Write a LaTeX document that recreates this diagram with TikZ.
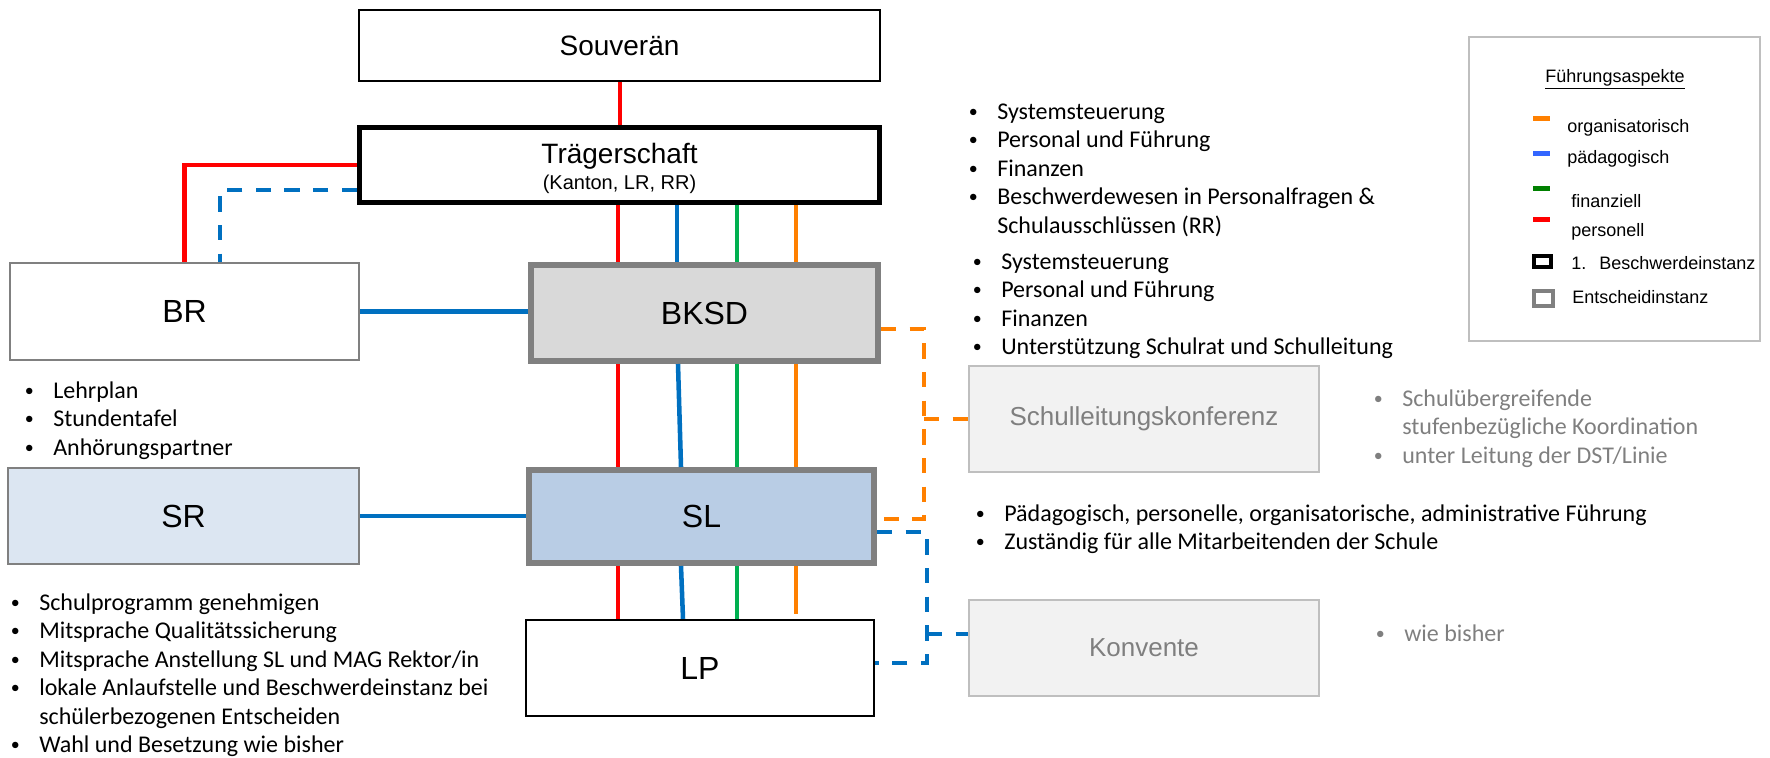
\documentclass[tikz,border=0pt]{standalone}
\usepackage{fontspec}
\setmainfont{Carlito}
\newfontfamily\arialf{Liberation Sans}
\usetikzlibrary{calc}
\definecolor{cred}{HTML}{FF0000}
\definecolor{cblue}{HTML}{0070C0}
\definecolor{cgreen}{HTML}{00B050}
\definecolor{corange}{HTML}{FF8000}
\definecolor{lblue}{HTML}{3366FF}
\definecolor{lgreen}{HTML}{008000}
\definecolor{bgray}{HTML}{808080}
\definecolor{lgray}{HTML}{BFBFBF}
\definecolor{tgray}{HTML}{7F7F7F}
\definecolor{fillbksd}{HTML}{D9D9D9}
\definecolor{fillsl}{HTML}{B9CDE5}
\definecolor{fillsr}{HTML}{DCE6F2}
\definecolor{fillpale}{HTML}{F2F2F2}
\newcommand\blt{\llap{\makebox[0pt][c]{\raisebox{1.3pt}{\fontsize{13.5}{14}\selectfont •}}\hspace{18pt}}}
\begin{document}
\begin{tikzpicture}[x=0.75pt,y=-0.75pt,
  box/.style={rectangle, inner sep=0pt, font=\arialf\fontsize{24}{28}\selectfont},
  plainbox/.style={box, draw=bgray, line width=1.8pt, fill=white},
  decidebox/.style={box, draw=bgray, line width=4.5pt},
  palebox/.style={box, draw=lgray, line width=1.8pt, fill=fillpale, text=tgray, font=\arialf\fontsize{19.5}{23}\selectfont},
  lbl/.style={inner sep=0pt, anchor=base, font=\arialf\fontsize{21}{25}\selectfont},
  lst/.style={anchor=base west, inner sep=0pt, font=\fontsize{18}{21.375}\selectfont},
  leg/.style={anchor=west, inner sep=0pt, font=\arialf\fontsize{13.5}{16}\selectfont},
  swatch/.style={rectangle, inner sep=0pt, minimum width=12.75pt, minimum height=3.75pt, draw=none},
  conn/.style={line width=3.4pt},
  dconn/.style={line width=3pt, dash pattern=on 11.5pt off 10pt}
]
\useasboundingbox (0,0) rectangle (1770,757);

% boxes
\node[box, draw=black, line width=1.2pt, minimum width=390.75pt, minimum height=53.25pt,
      font=\arialf\fontsize{21}{25}\selectfont] (souv) at (619.5,45.5) {Souverän};
\node[box, draw=black, line width=3.75pt, minimum width=390pt, minimum height=56.25pt] (traeger) at (619.5,165) {};
\node[lbl] (traegerA) at (619.5,163) {Trägerschaft};
\node[lbl, font=\arialf\fontsize{15}{18}\selectfont] (traegerB) at (619.5,189) {(Kanton, LR, RR)};
\node[plainbox, minimum width=261.75pt, minimum height=72.75pt] (br) at (184.5,311.5) {BR};
\node[decidebox, fill=fillbksd, minimum width=260.25pt, minimum height=72pt] (bksd) at (704.5,313) {BKSD};
\node[plainbox, fill=fillsr, minimum width=263.25pt, minimum height=72pt] (sr) at (183.5,516) {SR};
\node[decidebox, fill=fillsl, minimum width=258.75pt, minimum height=69.75pt] (sl) at (701.5,516.5) {SL};
\node[box, draw=black, line width=1.8pt, fill=white, minimum width=261pt, minimum height=72pt] (lp) at (700,668) {LP};
\node[palebox, minimum width=262.5pt, minimum height=79.5pt] (slk) at (1144,419) {Schulleitungskonferenz};
\node[palebox, minimum width=262.5pt, minimum height=72pt] (konv) at (1144,648) {Konvente};

% connectors
\coordinate (xs) at (620,0);
\coordinate (xr) at (618,0);
\coordinate (xg) at (737,0);
\coordinate (xo) at (796,0);
\coordinate (xb1) at (677,0);
\coordinate (xb2) at (678,0);
\coordinate (xb3) at (681,0);
\coordinate (xb4) at (683,0);
\coordinate (bdx) at (220,0);
\coordinate (oend) at (796,614);
\coordinate (ojoin) at (924,419);
\coordinate (bjoin) at (927,634);

\draw[conn, cred] (souv.south -| xs) -- (traeger.north -| xs);
\draw[conn, cred] (traeger.west) -| (br.north);
\draw[dconn, cblue] ($(traeger.west)+(0,25)$) -| (bdx |- br.north);

\draw[conn, cred] (traeger.south -| xr) -- (bksd.north -| xr);
\draw[conn, cblue] (traeger.south -| xb1) -- (bksd.north -| xb1);
\draw[conn, cgreen] (traeger.south -| xg) -- (bksd.north -| xg);
\draw[conn, corange] (traeger.south -| xo) -- (bksd.north -| xo);

\draw[conn, cred] (bksd.south -| xr) -- (sl.north -| xr);
\draw[conn, cblue] (bksd.south -| xb2) -- (sl.north -| xb3);
\draw[conn, cgreen] (bksd.south -| xg) -- (sl.north -| xg);
\draw[conn, corange] (bksd.south -| xo) -- (sl.north -| xo);

\draw[conn, cred] (sl.south -| xr) -- (lp.north -| xr);
\draw[conn, cblue] (sl.south -| xb3) -- (lp.north -| xb4);
\draw[conn, cgreen] (sl.south -| xg) -- (lp.north -| xg);
\draw[conn, corange] (sl.south -| xo) -- (oend);

\draw[conn, cblue] (br.east) -- (br.east -| bksd.west);
\draw[conn, cblue] (sr.east) -- (sr.east -| sl.west);

\draw[dconn, corange] ($(bksd.east)+(0,16)$) -| (ojoin) |- ($(sl.east)+(0,2.5)$);
\draw[dconn, corange] (ojoin) -- (ojoin -| slk.west);
\draw[dconn, cblue] ($(sl.east)+(0,15.5)$) -| (bjoin) |- ($(lp.east)+(0,-5)$);
\draw[dconn, cblue] (bjoin) -- (bjoin -| konv.west);

% text lists
\node[lst] (listTr) at (997,119) {\begin{tabular}[t]{@{}l@{}}
\blt Systemsteuerung\\
\blt Personal und Führung\\
\blt Finanzen\\
\blt Beschwerdewesen in Personalfragen \&\\
Schulausschlüssen (RR)
\end{tabular}};
\node[lst] (listBksd) at (1001,269) {\begin{tabular}[t]{@{}l@{}}
\blt Systemsteuerung\\
\blt Personal und Führung\\
\blt Finanzen\\
\blt Unterstützung Schulrat und Schulleitung
\end{tabular}};
\node[lst] (listBr) at (53,398) {\begin{tabular}[t]{@{}l@{}}
\blt Lehrplan\\
\blt Stundentafel\\
\blt Anhörungspartner
\end{tabular}};
\node[lst] (listSr) at (39,610) {\begin{tabular}[t]{@{}l@{}}
\blt Schulprogramm genehmigen\\
\blt Mitsprache Qualitätssicherung\\
\blt Mitsprache Anstellung SL und MAG Rektor/in\\
\blt lokale Anlaufstelle und Beschwerdeinstanz bei\\
schülerbezogenen Entscheiden\\
\blt Wahl und Besetzung wie bisher
\end{tabular}};
\node[lst] (listSl) at (1004,521) {\begin{tabular}[t]{@{}l@{}}
\blt Pädagogisch, personelle, organisatorische, administrative Führung\\
\blt Zuständig für alle Mitarbeitenden der Schule
\end{tabular}};
\node[lst, text=tgray] (listSlk) at (1402,406) {\begin{tabular}[t]{@{}l@{}}
\blt Schulübergreifende\\
stufenbezügliche Koordination\\
\blt unter Leitung der DST/Linie
\end{tabular}};
\node[lst, text=tgray] (listKonv) at (1404,641) {\begin{tabular}[t]{@{}l@{}}
\blt wie bisher
\end{tabular}};

% legend
\node[rectangle, draw=lgray, line width=1.5pt, minimum width=218.25pt, minimum height=228pt, inner sep=0pt] (legend) at (1614,189) {};
\node[inner sep=0pt, font=\arialf\fontsize{13.5}{16}\selectfont] (legTitle) at (1615,79) {\underline{Führungsaspekte}};
\node[swatch, fill=corange] (swOrg) at (1541.5,118) {};
\node[swatch, fill=lblue] (swPed) at (1541.5,153) {};
\node[swatch, fill=lgreen] (swFin) at (1541.5,188) {};
\node[swatch, fill=cred] (swPer) at (1541.5,219) {};
\node[rectangle, draw=black, line width=3pt, fill=white, minimum width=12.75pt, minimum height=8.25pt, inner sep=0pt] (sqBlack) at (1542.5,261.5) {};
\node[rectangle, draw=bgray, line width=3pt, fill=white, minimum width=14.25pt, minimum height=11.25pt, inner sep=0pt] (sqGray) at (1543.5,298.5) {};
\node[leg] (legOrg) at (1567,128) {organisatorisch};
\node[leg] (legPed) at (1567,159) {pädagogisch};
\node[leg] (legFin) at (1571,201) {finanziell};
\node[leg] (legPer) at (1571,232) {personell};
\node[leg] (legBes) at (1571,263) {1.\hspace{9.75pt}Beschwerdeinstanz};
\node[leg] (legEnt) at (1572,297) {Entscheidinstanz};
\end{tikzpicture}
\end{document}
